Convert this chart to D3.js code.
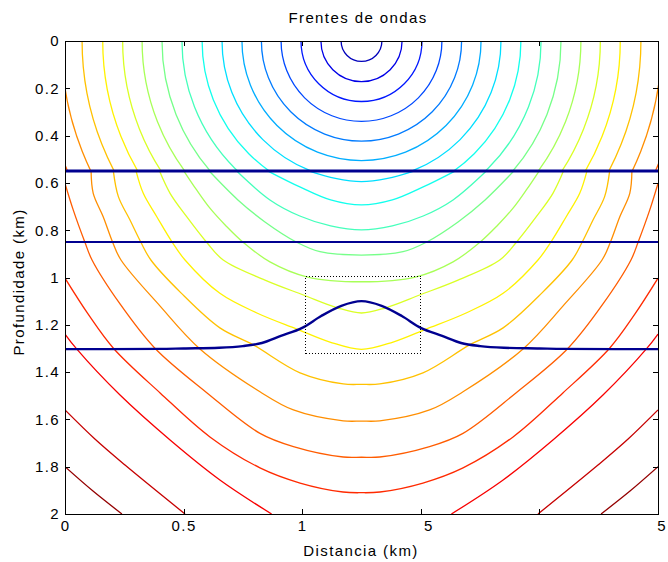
<!DOCTYPE html>
<html>
<head>
<meta charset="utf-8">
<script src="https://cdn.jsdelivr.net/npm/d3@7"></script>
<style>
  body { margin: 0; background: #fff; }
  text { font-family: "Liberation Sans", Arial, sans-serif; font-size: 15px; letter-spacing: 1.4px; fill: #000; }
</style>
</head>
<body>
<div id="chart"></div>
<script>
var width = 668,
    height = 562,
    margin = {top: 41, right: 10, bottom: 48, left: 65};

// ticks
var xTicks = [0, 0.5, 1, 1.5, 2, 2.5];
var xTickLabels = ["0", "0.5", "1", "1.5", "2", "2.5"];
var xTickHidden = [0, 0, 0, 2, 1, 2];   // leading characters that do not show in the picture
var yTicks = [0, 0.2, 0.4, 0.6, 0.8, 1, 1.2, 1.4, 1.6, 1.8, 2];

// source position and wavefront levels (1 = first front)
var sourceX = 1.25;
var levels = [1, 2, 3, 4, 5, 6, 7, 8, 9, 10, 11, 12, 13, 14, 15, 16, 17, 18, 19, 20];
// radius of each front in the top layer (km)
var topRadii = [0.086, 0.171, 0.255, 0.339, 0.422, 0.504, 0.588, 0.672, 0.757, 0.841,
                0.925, 1.007, 1.091, 1.178, 1.266, 1.355];

// layer boundaries
var layer1Depth = 0.55;
var layer2Depth = 0.85;
var bumpX =     [0, 0.4, 0.5, 0.65, 0.75, 0.83, 0.91, 1.0, 1.08, 1.165, 1.25, 1.335, 1.42, 1.5, 1.59, 1.67, 1.75, 1.85, 2.0, 2.1, 2.5];
var bumpDepth = [1.303, 1.302, 1.3, 1.297, 1.29, 1.277, 1.247, 1.213, 1.163, 1.12, 1.10, 1.12, 1.163, 1.213, 1.247, 1.277, 1.29, 1.297, 1.3, 1.302, 1.303];
var zoomBox = {x0: 1.015, x1: 1.5, d0: 0.995, d1: 1.32};

// fronts below the first boundary, left half [distance, depth], ending at the centre line or the bottom
var front7  = [[1.033, 0.551], [1.14, 0.581], [1.25, 0.595]];
var front8  = [[0.858, 0.551], [0.99, 0.617], [1.12, 0.672], [1.25, 0.693]];
var front9  = [[0.725, 0.551], [0.864, 0.672], [0.99, 0.74], [1.12, 0.782], [1.25, 0.799]];
var front10 = [[0.609, 0.551], [0.729, 0.672], [0.843, 0.765], [0.977, 0.851], [1.075, 0.891], [1.25, 0.905]];
var front11 = [[0.502, 0.551], [0.555, 0.63], [0.611, 0.707], [0.679, 0.782], [0.752, 0.852], [0.864, 0.934], [1.019, 0.997], [1.25, 1.018]];
var front12 = [[0.399, 0.551], [0.443, 0.644], [0.513, 0.743], [0.597, 0.851], [0.667, 0.926], [0.843, 1.011], [1.005, 1.074], [1.151, 1.129], [1.25, 1.15]];
var front13 = [[0.3, 0.551], [0.33, 0.644], [0.387, 0.743], [0.452, 0.851], [0.506, 0.926], [0.653, 1.067], [0.809, 1.15], [0.977, 1.218], [1.117, 1.273], [1.25, 1.304]];
var front14 = [[0.204, 0.551], [0.225, 0.658], [0.274, 0.757], [0.32, 0.851], [0.362, 0.926], [0.49, 1.066], [0.653, 1.213], [0.794, 1.285], [0.991, 1.403], [1.173, 1.45], [1.25, 1.452]];
var front15 = [[0.11, 0.551], [0.119, 0.644], [0.161, 0.743], [0.201, 0.851], [0.236, 0.926], [0.401, 1.121], [0.569, 1.302], [0.822, 1.483], [0.963, 1.56], [1.173, 1.606], [1.25, 1.607]];
var front16 = [[0, 0.602], [0.035, 0.715], [0.084, 0.851], [0.114, 0.926], [0.232, 1.112], [0.379, 1.299], [0.599, 1.488], [0.822, 1.659], [0.963, 1.715], [1.173, 1.759], [1.25, 1.76]];
var front17 = [[0, 1.003], [0.097, 1.154], [0.204, 1.299], [0.401, 1.488], [0.611, 1.674], [0.822, 1.805], [0.991, 1.869], [1.172, 1.907], [1.25, 1.91]];
var front18 = [[0, 1.239], [0.049, 1.302], [0.232, 1.497], [0.443, 1.687], [0.653, 1.856], [0.871, 2.0]];
var front19 = [[0, 1.56], [0.126, 1.683], [0.253, 1.793], [0.506, 2.0]];
var front20 = [[0, 1.8], [0.118, 1.903], [0.24, 2.0]];

var lowerFronts = [
  {level: 7, pts: front7, centre: true}, {level: 8, pts: front8, centre: true},
  {level: 9, pts: front9, centre: true}, {level: 10, pts: front10, centre: true},
  {level: 11, pts: front11, centre: true}, {level: 12, pts: front12, centre: true},
  {level: 13, pts: front13, centre: true}, {level: 14, pts: front14, centre: true},
  {level: 15, pts: front15, centre: true}, {level: 16, pts: front16, centre: true},
  {level: 17, pts: front17, centre: true}, {level: 18, pts: front18, centre: false},
  {level: 19, pts: front19, centre: false}, {level: 20, pts: front20, centre: false}
];

var svg = d3.select("#chart")
  .append("svg")
  .attr("width", width)
  .attr("height", height);

var x = d3.scaleLinear().domain([0, 2.5]).range([margin.left, width - margin.right]);
var y = d3.scaleLinear().domain([0, 2]).range([margin.top, height - margin.bottom]);

// jet colour map
var jet = d3.scaleLinear()
  .domain([0, 0.125, 0.375, 0.625, 0.875, 1])
  .range(["#00008f", "#0000ff", "#00ffff", "#ffff00", "#ff0000", "#800000"]);
var levelColor = function(k) { return jet(k / 20.4); };

var defs = svg.append("defs");
defs.append("clipPath").attr("id", "plotClip")
  .append("rect")
  .attr("x", x(0)).attr("y", y(0))
  .attr("width", x(2.5) - x(0)).attr("height", y(2) - y(0));
defs.append("clipPath").attr("id", "topLayerClip")
  .append("rect")
  .attr("x", x(0)).attr("y", y(0))
  .attr("width", x(2.5) - x(0)).attr("height", y(layer1Depth) - y(0));

var plot = svg.append("g").attr("clip-path", "url(#plotClip)");

// fronts in the top layer are circles round the source
plot.append("g")
  .attr("clip-path", "url(#topLayerClip)")
  .selectAll("circle")
  .data(topRadii)
  .enter()
  .append("circle")
  .attr("cx", x(sourceX))
  .attr("cy", y(0))
  .attr("r", d => x(d) - x(0))
  .attr("fill", "none")
  .attr("stroke", (d, i) => levelColor(levels[i]))
  .attr("stroke-width", 1.3);

// fronts below, mirrored about the source
var mirror = p => [2 * sourceX - p[0], p[1]];
var frontLine = d3.line()
  .x(d => x(d[0]))
  .y(d => y(d[1]))
  .curve(d3.curveCatmullRom.alpha(0.5));

var lowerPaths = [];
lowerFronts.forEach(f => {
  if (f.centre) {
    var right = f.pts.slice(0, -1).reverse().map(mirror);
    lowerPaths.push({level: f.level, pts: f.pts.concat(right)});
  } else {
    lowerPaths.push({level: f.level, pts: f.pts});
    lowerPaths.push({level: f.level, pts: f.pts.map(mirror)});
  }
});

plot.append("g")
  .selectAll("path")
  .data(lowerPaths)
  .enter()
  .append("path")
  .attr("d", d => frontLine(d.pts))
  .attr("fill", "none")
  .attr("stroke", d => levelColor(d.level))
  .attr("stroke-width", 1.3);

// layer boundaries
plot.append("line")
  .attr("x1", x(0)).attr("x2", x(2.5))
  .attr("y1", y(layer1Depth)).attr("y2", y(layer1Depth))
  .attr("stroke", "#000090")
  .attr("stroke-width", 3);

plot.append("line")
  .attr("x1", x(0)).attr("x2", x(2.5))
  .attr("y1", y(layer2Depth)).attr("y2", y(layer2Depth))
  .attr("stroke", "#000090")
  .attr("stroke-width", 2);

var bump = bumpX.map((d, i) => [d, bumpDepth[i]]);
plot.append("path")
  .attr("d", d3.line().x(d => x(d[0])).y(d => y(d[1])).curve(d3.curveMonotoneX)(bump))
  .attr("fill", "none")
  .attr("stroke", "#000090")
  .attr("stroke-width", 2.4);

// dotted box round the bump
svg.append("rect")
  .attr("x", x(zoomBox.x0))
  .attr("y", y(zoomBox.d0))
  .attr("width", x(zoomBox.x1) - x(zoomBox.x0))
  .attr("height", y(zoomBox.d1) - y(zoomBox.d0))
  .attr("fill", "none")
  .attr("stroke", "#000")
  .attr("stroke-width", 1)
  .attr("stroke-dasharray", "1,2")
  .attr("shape-rendering", "crispEdges");

// axes with ticks pointing inwards on all sides
var xAxis = d3.axisBottom(x).tickValues(xTicks).tickSizeInner(-5).tickSizeOuter(0).tickPadding(6)
  .tickFormat((d, i) => xTickLabels[i]);
var gx = svg.append("g")
  .attr("transform", "translate(0," + y(2) + ")")
  .call(xAxis);
gx.selectAll(".tick text").each(function(d, i) {
  var t = d3.select(this), label = xTickLabels[i], n = xTickHidden[i];
  t.text(null);
  t.append("tspan").attr("fill-opacity", 0).text(label.slice(0, n));
  t.append("tspan").text(label.slice(n));
});
// last label sits on the window edge; pull it in so it stays whole
gx.selectAll(".tick text").filter(d => d === 2.5).attr("dx", -4);

svg.append("g")
  .attr("transform", "translate(0," + y(0) + ")")
  .call(d3.axisTop(x).tickValues(xTicks).tickSizeInner(-5).tickSizeOuter(0).tickFormat(""));

svg.append("g")
  .attr("transform", "translate(" + x(0) + ",0)")
  .call(d3.axisLeft(y).tickValues(yTicks).tickSizeInner(-5).tickSizeOuter(0).tickPadding(5)
    .tickFormat(d => String(d)));

svg.append("g")
  .attr("transform", "translate(" + x(2.5) + ",0)")
  .call(d3.axisRight(y).tickValues(yTicks).tickSizeInner(-5).tickSizeOuter(0).tickFormat(""));

svg.selectAll(".domain").remove();
svg.selectAll(".tick line").attr("stroke", "#000").attr("shape-rendering", "crispEdges");
svg.selectAll(".tick text")
  .style("font-family", "'Liberation Sans', Arial, sans-serif")
  .style("font-size", "15px");

svg.append("rect")
  .attr("x", x(0)).attr("y", y(0))
  .attr("width", x(2.5) - x(0)).attr("height", y(2) - y(0))
  .attr("fill", "none")
  .attr("stroke", "#000")
  .attr("stroke-width", 1)
  .attr("shape-rendering", "crispEdges");

// titles
svg.append("text")
  .attr("x", 358)
  .attr("y", 23)
  .attr("text-anchor", "middle")
  .text("Frentes de ondas");

svg.append("text")
  .attr("x", 361)
  .attr("y", 556)
  .attr("text-anchor", "middle")
  .text("Distancia (km)");

svg.append("text")
  .attr("transform", "translate(24,282) rotate(-90)")
  .attr("text-anchor", "middle")
  .text("Profundidade (km)");
</script>
</body>
</html>
